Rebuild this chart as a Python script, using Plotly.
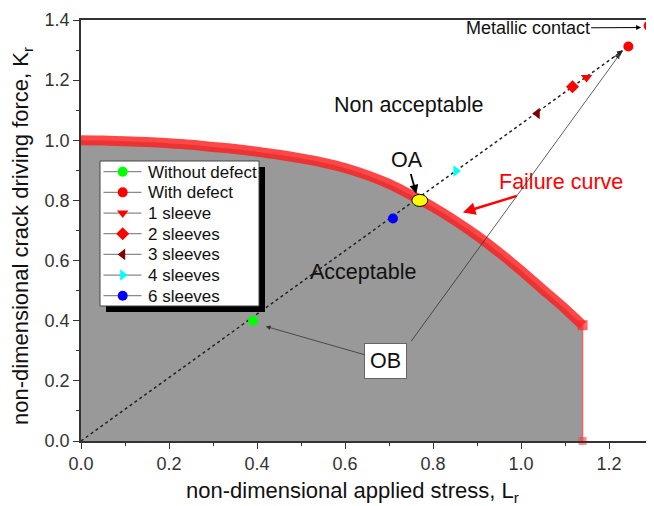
import plotly.graph_objects as go

# Failure curve
fad_lr = [0.0, 0.05, 0.1, 0.15, 0.2, 0.25, 0.3, 0.35, 0.4, 0.45, 0.5, 0.55, 0.6, 0.65,
          0.7, 0.75, 0.8, 0.85, 0.9, 0.95, 1.0, 1.05, 1.1, 1.14]
fad_kr = [1.0, 0.999, 0.997, 0.994, 0.99, 0.985, 0.978, 0.971, 0.962, 0.952, 0.94, 0.926,
          0.908, 0.884, 0.855, 0.818, 0.778, 0.733, 0.683, 0.627, 0.567, 0.503, 0.44, 0.385]
lr_cut = 1.14

# Points
series_names = ["Without defect", "With defect", "1 sleeve", "2 sleeves", "3 sleeves", "4 sleeves", "6 sleeves"]
series_lr = [[0.391], [1.244, 1.29], [1.149], [1.117], [1.037], [0.852], [0.709]]
series_kr = [[0.40], [1.312, 1.381], [1.209], [1.178], [1.089], [0.898], [0.74]]
series_sym = ["circle", "circle", "triangle-down", "diamond", "triangle-left", "triangle-right", "circle"]
series_col = ["#00ff00", "#ff0000", "#ff0000", "#ff0000", "#800000", "#00ffff", "#0000ff"]

load_line_lr = [0.0, 1.23]
load_line_kr = [0.0, 1.297]
oa_point = (0.770, 0.80)

x_ticks = [0, 0.2, 0.4, 0.6, 0.8, 1.0, 1.2]
y_ticks = [0, 0.2, 0.4, 0.6, 0.8, 1.0, 1.2, 1.4]

x_title = "non-dimensional applied stress, L<sub>r</sub>"
y_title = "non-dimensional crack driving force, K<sub>r</sub>"

FONT = "Arial, Liberation Sans, sans-serif"
fig = go.Figure()

# Grey acceptable region
fig.add_trace(go.Scatter(x=fad_lr, y=fad_kr, mode="lines", fill="tozeroy", line_shape="spline",
                         fillcolor="#999999", line=dict(width=0, color="#999999"),
                         showlegend=False, hoverinfo="skip"))
# vertical cut line
fig.add_trace(go.Scatter(x=[lr_cut, lr_cut], y=[fad_kr[-1], 0], mode="lines",
                         line=dict(color="rgba(255,60,60,0.7)", width=1.5),
                         showlegend=False, hoverinfo="skip"))
fig.add_trace(go.Scatter(x=[lr_cut], y=[0], mode="markers",
                         marker=dict(symbol="square", size=8, color="rgba(255,60,60,0.6)"),
                         showlegend=False, hoverinfo="skip", cliponaxis=False))
# failure curve band
fig.add_trace(go.Scatter(x=fad_lr, y=fad_kr, mode="lines", line_shape="spline",
                         line=dict(color="rgba(255,25,25,0.8)", width=10),
                         showlegend=False, hoverinfo="skip"))
fig.add_trace(go.Scatter(x=[fad_lr[-1]], y=[fad_kr[-1]], mode="markers",
                         marker=dict(symbol="square", size=10, color="rgba(255,40,40,0.7)"),
                         showlegend=False, hoverinfo="skip"))
# dotted load line
fig.add_trace(go.Scatter(x=load_line_lr, y=load_line_kr, mode="lines",
                         line=dict(color="#222222", width=1.5, dash="dot"),
                         showlegend=False, hoverinfo="skip"))

for n, xs, ys, s, c in zip(series_names, series_lr, series_kr, series_sym, series_col):
    fig.add_trace(go.Scatter(x=xs, y=ys, mode="markers", name=n, showlegend=False,
                             marker=dict(symbol=s, size=10, color=c, line=dict(width=0)),
                             cliponaxis=False))

# ---- hand-made legend (paper coordinates, via an overlay axis pair) ----
px0, px1 = 81, 653     # plot area in screen pixels
py0, py1 = 441, 20
def pxx(v):
    return (v - px0) / (px1 - px0)
def pyy(v):
    return (py0 - v) / (py0 - py1)

lg_left, lg_right, lg_top, lg_bottom = 100, 259, 161, 306
shadow_off = 6
def rect(x0, x1, y0, y1):
    return [pxx(x0), pxx(x1), pxx(x1), pxx(x0), pxx(x0)], [pyy(y0), pyy(y0), pyy(y1), pyy(y1), pyy(y0)]

sx, sy = rect(lg_left + shadow_off, lg_right + shadow_off, lg_top + shadow_off, lg_bottom + shadow_off)
fig.add_trace(go.Scatter(x=sx, y=sy, xaxis="x2", yaxis="y2", mode="lines", fill="toself",
                         fillcolor="#000000", line=dict(width=0), showlegend=False,
                         hoverinfo="skip", cliponaxis=False))
bx, by = rect(lg_left, lg_right, lg_top, lg_bottom)
fig.add_trace(go.Scatter(x=bx, y=by, xaxis="x2", yaxis="y2", mode="lines", fill="toself",
                         fillcolor="#ffffff", line=dict(width=1, color="#444444"), showlegend=False,
                         hoverinfo="skip", cliponaxis=False))
row_y = [171.7 + 20.67 * i for i in range(len(series_names))]
lx, ly = [], []
for yc in row_y:
    lx += [pxx(103.5), pxx(141.5), None]
    ly += [pyy(yc), pyy(yc), None]
fig.add_trace(go.Scatter(x=lx, y=ly, xaxis="x2", yaxis="y2", mode="lines",
                         line=dict(width=1.2, color="#8a8a8a"), showlegend=False,
                         hoverinfo="skip", cliponaxis=False))
for n, s, c, yc in zip(series_names, series_sym, series_col, row_y):
    fig.add_trace(go.Scatter(x=[pxx(122.7)], y=[pyy(yc)], xaxis="x2", yaxis="y2", mode="markers",
                             marker=dict(symbol=s, size=10, color=c, line=dict(width=0)),
                             showlegend=False, hoverinfo="skip", cliponaxis=False))

ann = []
for n, yc in zip(series_names, row_y):
    ann.append(dict(xref="paper", yref="paper", x=pxx(146), y=pyy(yc + 0.5), text=n,
                    xanchor="left", yanchor="middle", showarrow=False,
                    font=dict(size=17, color="#111")))

# axis titles
ann.append(dict(xref="paper", yref="paper", x=pxx(352), y=pyy(492), text=x_title,
                xanchor="center", yanchor="middle", showarrow=False,
                font=dict(size=22, color="#111")))
ann.append(dict(xref="paper", yref="paper", x=pxx(22), y=pyy(236), text=y_title,
                xanchor="center", yanchor="middle", showarrow=False, textangle=-90,
                font=dict(size=22, color="#111")))

shapes = [
    dict(type="circle", xref="x", yref="y",
         x0=oa_point[0] - 0.018, x1=oa_point[0] + 0.018,
         y0=oa_point[1] - 0.02, y1=oa_point[1] + 0.02,
         fillcolor="#ffff00", line=dict(color="#000000", width=1)),
]

AF = 21.5
ann += [
    dict(x=0.744, y=1.117, text="Non acceptable", showarrow=False, font=dict(size=AF, color="#111")),
    dict(x=0.64, y=0.563, text="Acceptable", showarrow=False, font=dict(size=AF, color="#111")),
    dict(x=0.762, y=0.822, ax=0.741, ay=0.933, axref="x", ayref="y", text="OA",
         showarrow=True, arrowhead=2, arrowsize=1, arrowwidth=1.8, arrowcolor="#000",
         font=dict(size=AF, color="#111")),
    dict(x=0.868, y=0.76, ax=1.09, ay=0.86, axref="x", ayref="y", text="Failure curve",
         showarrow=True, arrowhead=2, arrowsize=1, arrowwidth=2.5, arrowcolor="#ff0000",
         font=dict(size=AF, color="#ff0000")),
    dict(x=1.273, y=1.375, ax=1.015, ay=1.373, axref="x", ayref="y", text="Metallic contact",
         showarrow=True, arrowhead=2, arrowsize=1, arrowwidth=1, arrowcolor="#000",
         font=dict(size=18, color="#111")),
    dict(x=0.42, y=0.381, ax=0.692, ay=0.267, axref="x", ayref="y", text="OB",
         showarrow=True, arrowhead=2, arrowsize=1.2, arrowwidth=0.8, arrowcolor="#333",
         bgcolor="#ffffff", bordercolor="#666", borderwidth=1, borderpad=5,
         font=dict(size=AF, color="#111")),
    dict(x=1.225, y=1.287, ax=0.748, ay=0.327, axref="x", ayref="y", text="",
         showarrow=True, arrowhead=2, arrowsize=1.2, arrowwidth=0.8, arrowcolor="#333"),
    dict(x=1.232, y=1.299, ax=1.205, ay=1.27, axref="x", ayref="y", text="",
         showarrow=True, arrowhead=2, arrowsize=1.2, arrowwidth=1, arrowcolor="#222"),
]

# page body adds an 8px offset; margins compensate so the plot area lands at
# screen x 81..653, y 20..441
fig.update_layout(
    width=654, height=506,
    margin=dict(l=73, r=9, t=12, b=73),
    paper_bgcolor="white", plot_bgcolor="white",
    font=dict(family=FONT, color="#222"),
    annotations=ann, shapes=shapes, showlegend=False,
    xaxis=dict(range=[0, 1.3], tickvals=x_ticks, tickformat=".1f",
               ticks="outside", ticklen=6, tickwidth=1.2, tickcolor="#333",
               minor=dict(dtick=0.1, tick0=0, ticks="outside", ticklen=3, tickcolor="#333"),
               showline=True, linecolor="#333", linewidth=1.5, mirror=True,
               showgrid=False, zeroline=False, automargin=False,
               tickfont=dict(size=18, color="#333")),
    yaxis=dict(range=[0, 1.4], tickvals=y_ticks, tickformat=".1f",
               ticks="outside", ticklen=6, tickwidth=1.2, tickcolor="#333",
               minor=dict(dtick=0.1, tick0=0, ticks="outside", ticklen=3, tickcolor="#333"),
               showline=True, linecolor="#333", linewidth=1.5,
               showgrid=False, zeroline=False, automargin=False,
               tickfont=dict(size=18, color="#333")),
    xaxis2=dict(domain=[0, 1], range=[0, 1], overlaying="x", anchor="y2", visible=False, fixedrange=True),
    yaxis2=dict(domain=[0, 1], range=[0, 1], overlaying="y", anchor="x2", visible=False, fixedrange=True),
)

fig.write_html("out.html")
